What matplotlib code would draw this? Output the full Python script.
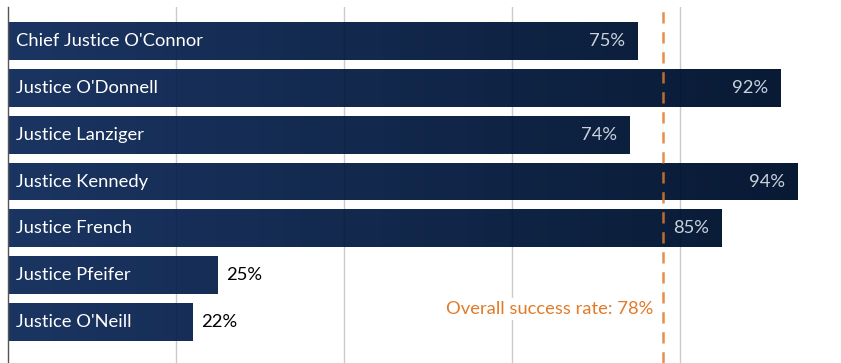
import matplotlib
matplotlib.use("Agg")
import matplotlib.pyplot as plt
import numpy as np
from matplotlib.colors import LinearSegmentedColormap

names = ["Chief Justice O'Connor", "Justice O'Donnell", "Justice Lanziger",
         "Justice Kennedy", "Justice French", "Justice Pfeifer", "Justice O'Neill"]
values = [75, 92, 74, 94, 85, 25, 22]
overall = 78
overall_label = "Overall success rate: 78%"

plt.rcParams['font.family'] = ['Lato', 'DejaVu Sans']

W, H = 841, 363
fig = plt.figure(figsize=(W / 100, H / 100), dpi=100)
ax = fig.add_axes([8 / W, 0, 1 - 8 / W, (H - 7) / H])

xmax = (W - 8) / 840 * 100
ax.set_xlim(0, xmax)
ax.set_ylim(6.876, -0.727)

cmap = LinearSegmentedColormap.from_list("g", ["#1b3562", "#071831"])
grad = np.linspace(0, 1, 256).reshape(1, -1)
h = 0.81
fs = 13.2
for i, (n, v) in enumerate(zip(names, values)):
    bar = ax.barh(i, v, height=h, color="none", zorder=2)[0]
    im = ax.imshow(grad, extent=[0, xmax, i + h / 2, i - h / 2], cmap=cmap,
                   aspect="auto", zorder=2, interpolation="bicubic")
    im.set_clip_path(bar)
    ax.text(1.0, i, n, color="white", va="center", ha="left", fontsize=fs, zorder=5)
    if v > 50:
        ax.text(v - 1.5, i, f"{v}%", color="#c9d1dc", va="center", ha="right",
                fontsize=fs, zorder=5)
    else:
        ax.text(v + 1.0, i, f"{v}%", color="black", va="center", ha="left",
                fontsize=fs, zorder=5)

for gx in [20, 40, 60, 80]:
    ax.axvline(gx, color="#e8e8e8", lw=1, zorder=1)
    ax.axvline(gx, color="black", lw=1, alpha=0.12, zorder=3)

ax.axvline(overall, color="#e07b2a", lw=1.8, ls=(0, (4.5, 3.5)), zorder=4, alpha=0.85)
ax.text(overall - 1.2, 5.72, overall_label, color="#e07b2a", ha="right",
        va="center", fontsize=fs, zorder=6,
        bbox=dict(facecolor="white", edgecolor="none", pad=2))

for s in ["top", "right", "bottom"]:
    ax.spines[s].set_visible(False)
ax.spines["left"].set_color("#555555")
ax.spines["left"].set_linewidth(1)
ax.set_xticks([])
ax.set_yticks([])

fig.savefig("out.png", dpi=100)
